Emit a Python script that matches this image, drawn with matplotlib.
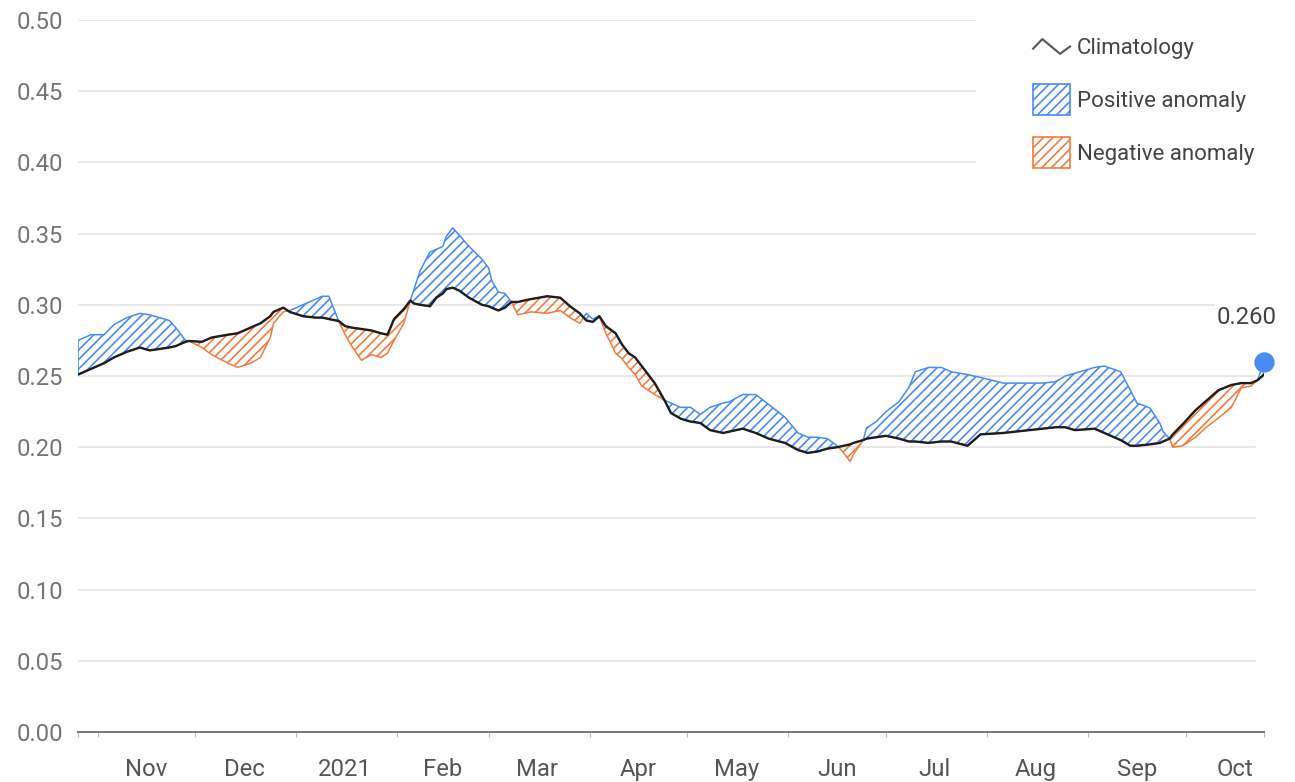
import matplotlib
matplotlib.use("Agg")
import matplotlib.pyplot as plt
import numpy as np
import pandas as pd
from matplotlib.legend_handler import HandlerBase
from matplotlib.lines import Line2D
from matplotlib.patches import Rectangle
from matplotlib.ticker import FormatStrFormatter

plt.rcParams['font.family'] = ['Roboto', 'DejaVu Sans']
plt.rcParams['hatch.linewidth'] = 0.6

# ---------------- data ----------------
dates = [
    "2020-10-26", "2020-10-30", "2020-11-03", "2020-11-06", "2020-11-10", "2020-11-14",
    "2020-11-17", "2020-11-20", "2020-11-23", "2020-11-25", "2020-11-28", "2020-11-29",
    "2020-12-03", "2020-12-06", "2020-12-11", "2020-12-14", "2020-12-18", "2020-12-21",
    "2020-12-24", "2020-12-25", "2020-12-28", "2020-12-30",
    "2021-01-03", "2021-01-07", "2021-01-09", "2021-01-11", "2021-01-14", "2021-01-16",
    "2021-01-18", "2021-01-21", "2021-01-24", "2021-01-27", "2021-01-29", "2021-01-31",
    "2021-02-03", "2021-02-05", "2021-02-06", "2021-02-08", "2021-02-11", "2021-02-13",
    "2021-02-15", "2021-02-16", "2021-02-18", "2021-02-20", "2021-02-23", "2021-02-27",
    "2021-03-01", "2021-03-02", "2021-03-04", "2021-03-06", "2021-03-08", "2021-03-10",
    "2021-03-14", "2021-03-19", "2021-03-23", "2021-03-26", "2021-03-29", "2021-03-31",
    "2021-04-02", "2021-04-04", "2021-04-06", "2021-04-09", "2021-04-11", "2021-04-13",
    "2021-04-15", "2021-04-17", "2021-04-21", "2021-04-24", "2021-04-26", "2021-04-29",
    "2021-05-02", "2021-05-05", "2021-05-08", "2021-05-12", "2021-05-14", "2021-05-18",
    "2021-05-22", "2021-05-26", "2021-05-31",
    "2021-06-04", "2021-06-07", "2021-06-10", "2021-06-13", "2021-06-16", "2021-06-18",
    "2021-06-20", "2021-06-21", "2021-06-24", "2021-06-25", "2021-06-28",
    "2021-07-01", "2021-07-05", "2021-07-08", "2021-07-10", "2021-07-14", "2021-07-18",
    "2021-07-21", "2021-07-26", "2021-07-30",
    "2021-08-06", "2021-08-10", "2021-08-14", "2021-08-18", "2021-08-22", "2021-08-25",
    "2021-08-28",
    "2021-09-03", "2021-09-06", "2021-09-11", "2021-09-14", "2021-09-16", "2021-09-20",
    "2021-09-23", "2021-09-24", "2021-09-26", "2021-09-27", "2021-09-30",
    "2021-10-04", "2021-10-07", "2021-10-11", "2021-10-15", "2021-10-18", "2021-10-21",
    "2021-10-23", "2021-10-25",
]

climatology = [
    0.251, 0.255, 0.259, 0.263, 0.267, 0.270, 0.268, 0.269, 0.270, 0.271, 0.274, 0.2746,
    0.274, 0.277, 0.279, 0.280, 0.284, 0.287, 0.292, 0.295, 0.298, 0.295,
    0.292, 0.291, 0.291, 0.290, 0.2886, 0.285, 0.284, 0.283, 0.282, 0.280, 0.279, 0.290,
    0.297, 0.303, 0.301, 0.300, 0.299, 0.305, 0.308, 0.311, 0.312, 0.310, 0.305, 0.300,
    0.299, 0.298, 0.296, 0.298, 0.302, 0.302, 0.304, 0.306, 0.305, 0.299, 0.294, 0.289,
    0.288, 0.292, 0.285, 0.280, 0.272, 0.266, 0.263, 0.257, 0.245, 0.233, 0.224, 0.220,
    0.218, 0.217, 0.212, 0.210, 0.211, 0.213, 0.210, 0.206, 0.203,
    0.198, 0.196, 0.197, 0.199, 0.200, 0.201, 0.202, 0.203, 0.205, 0.206, 0.207,
    0.208, 0.206, 0.204, 0.204, 0.203, 0.204, 0.204, 0.201, 0.209,
    0.210, 0.211, 0.212, 0.213, 0.214, 0.214, 0.212,
    0.213, 0.210, 0.205, 0.201, 0.201, 0.202, 0.203, 0.204, 0.206, 0.209, 0.216,
    0.226, 0.232, 0.240, 0.2437, 0.245, 0.245, 0.247, 0.251,
]

observed = [
    0.275, 0.279, 0.279, 0.286, 0.291, 0.294, 0.293, 0.291, 0.289, 0.284, 0.275, 0.2746,
    0.270, 0.265, 0.259, 0.256, 0.259, 0.263, 0.277, 0.287, 0.295, 0.296,
    0.300, 0.304, 0.306, 0.306, 0.2886, 0.279, 0.271, 0.261, 0.265, 0.263, 0.266, 0.275,
    0.287, 0.303, 0.310, 0.324, 0.337, 0.339, 0.341, 0.348, 0.354, 0.349, 0.341, 0.332,
    0.326, 0.317, 0.309, 0.308, 0.302, 0.293, 0.295, 0.294, 0.296, 0.291, 0.287, 0.294,
    0.290, 0.292, 0.280, 0.266, 0.262, 0.256, 0.251, 0.243, 0.237, 0.233, 0.231, 0.228,
    0.228, 0.223, 0.228, 0.231, 0.232, 0.237, 0.237, 0.230, 0.221,
    0.210, 0.207, 0.207, 0.206, 0.201, 0.196, 0.190, 0.195, 0.205, 0.2135, 0.218,
    0.225, 0.232, 0.242, 0.253, 0.256, 0.256, 0.253, 0.251, 0.249,
    0.245, 0.245, 0.245, 0.245, 0.246, 0.250, 0.252,
    0.256, 0.257, 0.253, 0.240, 0.231, 0.2275, 0.217, 0.211, 0.206, 0.200, 0.201,
    0.207, 0.2135, 0.2205, 0.228, 0.2416, 0.243, 0.247, 0.260,
]

month_labels = ["Nov", "Dec", "2021", "Feb", "Mar", "Apr", "May", "Jun", "Jul", "Aug", "Sep", "Oct"]
month_label_dates = ["2020-11-16", "2020-12-16", "2021-01-16", "2021-02-15", "2021-03-16", "2021-04-16",
                     "2021-05-16", "2021-06-16", "2021-07-16", "2021-08-16", "2021-09-16", "2021-10-16"]
month_starts = ["2020-11-01", "2020-12-01", "2021-01-01", "2021-02-01", "2021-03-01", "2021-04-01",
                "2021-05-01", "2021-06-01", "2021-07-01", "2021-08-01", "2021-09-01", "2021-10-01"]
x_start, x_end = "2020-10-26", "2021-10-25"
y_ticks = [0.00, 0.05, 0.10, 0.15, 0.20, 0.25, 0.30, 0.35, 0.40, 0.45, 0.50]

# ---------------- plot ----------------
x = pd.to_datetime(dates)
clim = np.array(climatology)
obs = np.array(observed)

W, H, DPI = 1295, 782, 200
fig = plt.figure(figsize=(W / DPI, H / DPI), dpi=DPI)
L, R, T, B = 78, 1264, 20, 732
ax = fig.add_axes([L / W, 1 - B / H, (R - L) / W, (B - T) / H])

BLUE = '#4a8af4'
ORANGE = '#f27b3d'
GRID = '#e4e4e4'
HATCH = '///////'

# gridlines (hidden behind legend region at top right)
for v in y_ticks[1:]:
    xmax = (975 - L) / (R - L) if v >= 0.40 else (1255 - L) / (R - L)
    ax.axhline(v, xmin=0, xmax=xmax, color=GRID, lw=0.6, zorder=0)

ax.fill_between(x, clim, obs, where=obs >= clim, interpolate=True,
                facecolor='none', edgecolor=BLUE, hatch=HATCH, linewidth=0.55, zorder=2)
ax.fill_between(x, clim, obs, where=obs <= clim, interpolate=True,
                facecolor='none', edgecolor=ORANGE, hatch=HATCH, linewidth=0.55, zorder=2)
ax.plot(x, clim, color='#1e1e1e', lw=0.85, zorder=3)

ax.plot(x[-1], obs[-1], 'o', ms=6.3, color=BLUE, zorder=5, clip_on=False)
ax.annotate(f"{obs[-1]:.3f}", xy=(x[-1], obs[-1]), xytext=(-17, 44), textcoords='offset pixels',
            ha='center', va='center', fontsize=8.6, color='#444444', zorder=6,
            bbox=dict(boxstyle='square,pad=0.1', facecolor='white', edgecolor='none'))

ax.set_xlim(pd.Timestamp(x_start), pd.Timestamp(x_end))
ax.set_ylim(0, 0.5)

for s in ['top', 'right', 'left']:
    ax.spines[s].set_visible(False)
ax.spines['bottom'].set_color('#777777')
ax.spines['bottom'].set_linewidth(0.7)

ax.set_yticks(y_ticks)
ax.yaxis.set_major_formatter(FormatStrFormatter('%.2f'))
ax.tick_params(axis='y', length=0, pad=5.4, labelsize=8.6, labelcolor='#757575')

major = pd.to_datetime([x_start] + month_starts + [x_end])
ax.set_xticks(major)
ax.set_xticklabels([''] * len(major))
ax.set_xticks(pd.to_datetime(month_label_dates), minor=True)
ax.set_xticklabels(month_labels, minor=True)
ax.tick_params(axis='x', which='major', length=1.8, width=0.4, color='#bbbbbb')
ax.tick_params(axis='x', which='minor', length=0, pad=9.2, labelsize=8.6, labelcolor='#555555')


class ZigHandler(HandlerBase):
    def create_artists(self, legend, orig_handle, xdescent, ydescent, width, height, fontsize, trans):
        xs = np.array([0.0, 0.25, 0.73, 1.0]) * width - xdescent
        ys = np.array([0.43, 0.74, 0.26, 0.5]) * height - ydescent
        return [Line2D(xs, ys, color='#555555', lw=0.75, transform=trans)]


clim_handle = Line2D([], [], color='#555555')
pos_patch = Rectangle((0, 0), 1, 1, facecolor='white', edgecolor=BLUE, hatch=HATCH, lw=0.6)
neg_patch = Rectangle((0, 0), 1, 1, facecolor='white', edgecolor=ORANGE, hatch=HATCH, lw=0.6)

fig.legend(handles=[clim_handle, pos_patch, neg_patch],
           labels=["Climatology", "Positive anomaly", "Negative anomaly"],
           handler_map={clim_handle: ZigHandler()},
           loc='upper left', bbox_to_anchor=(1022 / W, 1 - 20 / H), bbox_transform=fig.transFigure,
           frameon=True, facecolor='white', edgecolor='none', framealpha=1, fancybox=False,
           fontsize=8.0, handlelength=1.66, handleheight=1.75, handletextpad=0.3,
           labelspacing=1.0, borderpad=0.5, borderaxespad=0, labelcolor='#444444')

fig.savefig("out.png", dpi=DPI)
